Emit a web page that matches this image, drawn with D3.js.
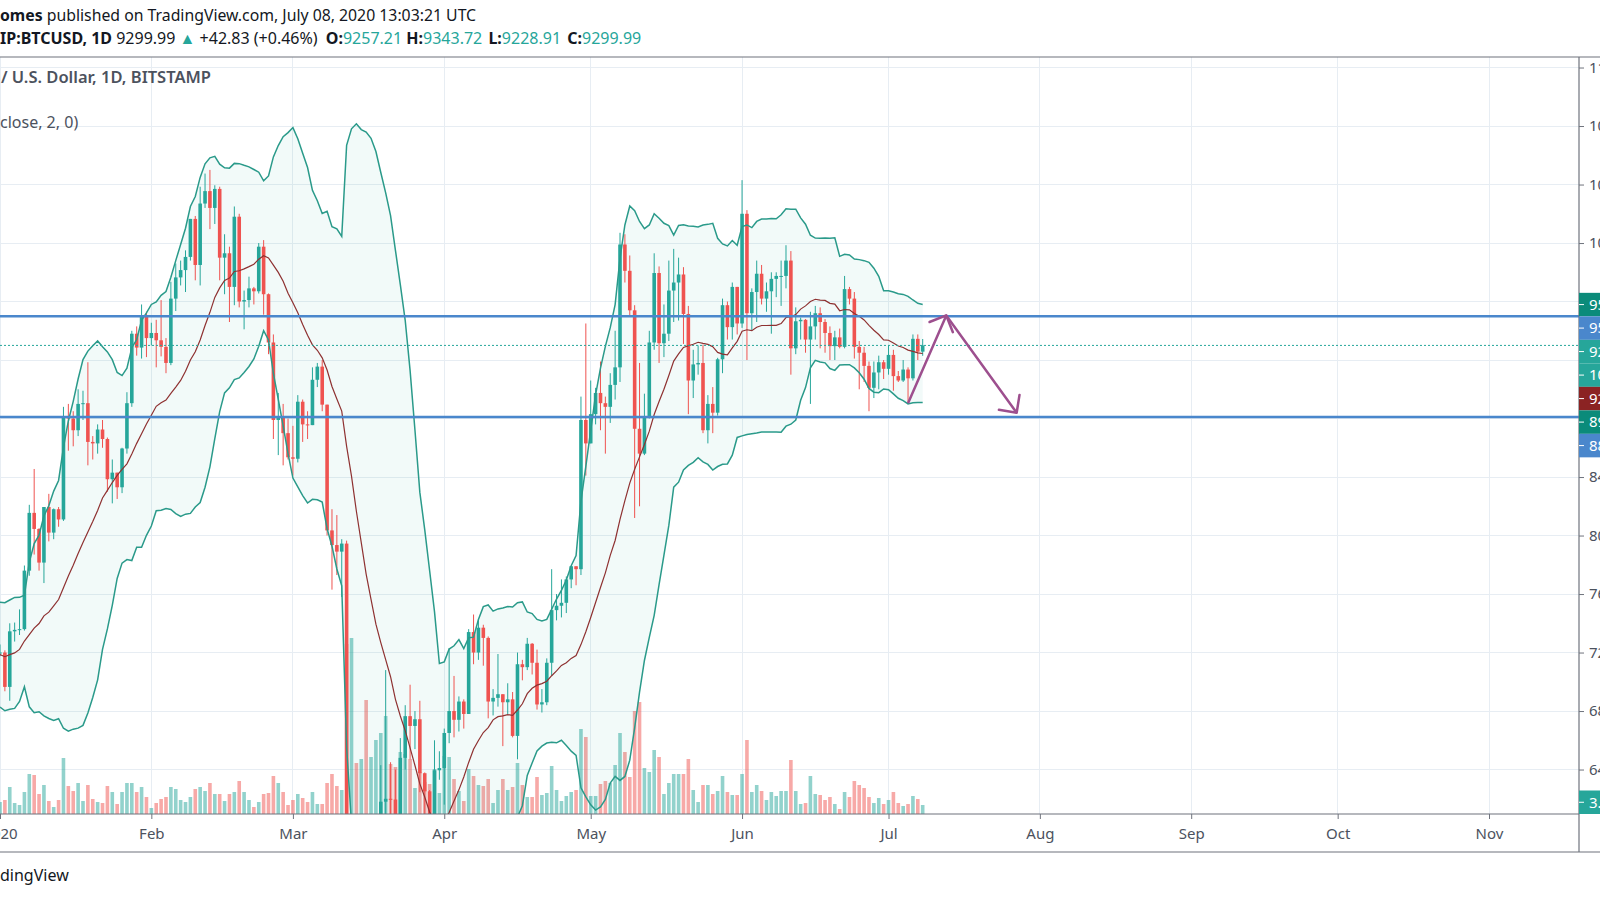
<!DOCTYPE html>
<meta charset="utf-8">
<style>
body { margin: 0; background: #fff; }
svg { display: block; font-family: "Noto Sans", sans-serif; }
</style>
<body>
<script src="https://d3js.org/d3.v7.min.js"></script>
<script>
// daily bars, BITSTAMP BTCUSD, first bar 2020-01-01
var firstDay = "2020-01-01";

var opens = [
  7195,7200,6965,7345,7355,7360,7760,8155,8045,7815,8195,8020,8180,8110,8810,8800,8720,8900,8905,8640,8630,8725,8660,8385,8430,8330,8595,8905,9380,9285,9505,
  9350,9385,9335,9290,9180,9620,9765,9815,9905,10165,9850,10270,10355,10240,10370,9900,9930,9700,10180,9600,9610,9690,9670,9975,9650,9320,8790,8810,8700,
  8535,8525,8915,8760,8755,9065,9155,8895,8035,7935,7890,7945,4860,5620,5165,5350,5020,5350,5400,6180,6200,6195,5826,6480,6765,6698,6744,6375,6251,5880,6395,
  6410,6650,6800,6740,6865,6780,7340,7200,7370,7300,6865,6890,6915,6860,6880,6630,7120,7100,7260,7130,6845,6860,7130,7490,7520,7540,7700,7790,7770,8790,
  8630,8830,8975,8905,8880,9030,9150,9990,9810,9540,8730,8560,8815,9320,9795,9315,9380,9675,9730,9785,9515,9060,9170,9180,8720,8900,8840,9205,9575,9425,9700,
  9450,10200,9520,9665,9790,9620,9670,9755,9775,9775,9880,9280,9465,9475,9340,9430,9520,9460,9385,9295,9355,9290,9685,9620,9290,9250,9160,9010,9115,9185,
  9140,9235,9090,9060,9135,9075,9345,9257.21
];
var highs = [
  7255,7215,7400,7405,7495,7795,8210,8455,8050,8195,8285,8185,8195,8880,8900,8850,9000,8990,9185,8680,8760,8790,8670,8520,8430,8600,8980,9400,9430,9580,9530,
  9455,9475,9610,9350,9735,9860,9880,9950,10165,10185,10385,10475,10500,10395,10385,10060,9975,10250,10200,9675,9770,9700,10000,10020,9655,9375,8975,8900,8800,
  8750,8960,8930,8850,9150,9180,9200,8895,8180,8140,7975,7965,5950,5650,5950,5360,5550,5400,6430,7080,6450,6400,6615,6840,6980,6800,6870,6380,6260,6600,6525,
  6680,7230,7040,6900,6880,7360,7460,7430,7390,7310,6950,7190,6915,6990,6930,7200,7150,7300,7265,7220,6950,7160,7770,7600,7700,7720,7790,7790,8950,9450,
  9060,9010,9190,8950,9110,9400,10070,10060,9915,9575,9180,8970,9400,9930,9840,9580,9880,9960,9900,9835,9570,9270,9300,9305,8960,9015,9215,9620,9600,9730,9700,
  10430,10225,9690,9880,9850,9730,9800,9800,9880,9985,9945,9560,9490,9480,9530,9570,9560,9480,9430,9400,9415,9775,9700,9665,9330,9290,9190,9190,9230,9200,
  9300,9270,9125,9200,9150,9375,9375,9343.72
];
var lows = [
  7175,6935,6870,7275,7320,7350,7725,7870,7760,7675,7960,7975,8060,8100,8580,8610,8680,8790,8480,8520,8560,8600,8300,8220,8250,8290,8560,8880,9230,9210,9220,
  9300,9150,9225,9110,9165,9535,9710,9665,9880,9745,9710,10240,10095,10130,9745,9650,9460,9575,9560,9410,9560,9580,9655,9510,9240,8660,8550,8480,8520,
  8410,8500,8640,8660,8755,9015,8850,8000,7630,7730,7580,4770,3850,5080,5100,4450,4960,5100,5250,5720,5860,5780,5696,6400,6470,6540,6245,6020,5865,5860,6330,
  6160,6580,6620,6660,6680,6780,7120,7150,7110,6750,6770,6830,6560,6780,6620,6470,7010,7080,7050,6810,6790,6840,7040,7420,7440,7470,7640,7660,7730,8410,
  8630,8760,8720,8560,8770,8930,9050,9730,9500,8120,8200,8550,8800,9270,9180,9220,9330,9460,9470,9310,8830,8940,9100,8700,8630,8700,8820,9110,9340,9340,9375,
  9420,9200,9400,9460,9580,9530,9380,9630,9570,9690,9100,9240,9340,9250,8900,9340,9280,9250,9200,9200,9280,9280,9580,9210,9000,9050,8850,8940,9000,9070,
  9100,8990,9050,9050,8900,9060,9200,9228.91
];
var closes = [
  7200,6965,7345,7355,7360,7760,8155,8045,7815,8195,8020,8180,8110,8810,8800,8720,8900,8905,8640,8630,8725,8660,8385,8430,8330,8595,8905,9380,9285,9505,9350,
  9385,9335,9290,9180,9620,9765,9815,9905,10165,9850,10270,10355,10240,10370,9900,9930,9700,10180,9600,9610,9690,9670,9975,9650,9320,8790,8810,8700,8535,
  8525,8915,8760,8755,9065,9155,8895,8035,7935,7890,7945,4860,5620,5165,5350,5020,5350,5400,6180,6200,6195,5826,6480,6765,6698,6744,6375,6251,5880,6395,6410,
  6650,6800,6740,6865,6780,7340,7200,7370,7300,6865,6890,6915,6860,6880,6630,7120,7100,7260,7130,6845,6860,7130,7490,7520,7540,7700,7790,7770,8790,8630,
  8830,8975,8905,8880,9030,9150,9990,9810,9540,8730,8560,8815,9320,9795,9315,9380,9675,9730,9785,9515,9060,9170,9180,8720,8900,8840,9205,9575,9425,9700,9450,
  10200,9520,9665,9790,9620,9670,9755,9775,9775,9880,9280,9465,9475,9340,9430,9520,9460,9385,9295,9355,9290,9685,9620,9290,9250,9160,9010,9115,9185,9140,
  9235,9090,9060,9135,9075,9345,9257.16,9299.99
];
// volume, thousands of BTC
var volumes = [
  4.8,5.6,10.8,4.4,3.6,8.8,16,15.6,8,11.6,5.2,2.8,5.6,22.4,11.2,9.2,12.4,5.2,11.6,6,4.8,4.4,11.2,8.8,4,8.8,12.4,12.4,8.8,10.8,6.8,
  2.4,4.4,6,6.8,10.8,10,5.6,4.8,6.8,10,10.8,9.2,12.4,8,8,5.2,8,8.8,13.2,8.8,5.6,2.8,4.8,8,8.4,15.2,12.4,8.8,3.6,
  5.6,8,6.4,4.8,8.8,4,4,12.4,16,11.2,9.6,68,70.4,20.4,22,45.6,22.8,29.6,32.4,39.2,20,18.8,24.8,24,22,10.4,16.8,12.8,12,18,8.4,
  23.2,22.8,14,9.2,5.2,18,15.2,11.6,11.2,14,4.4,9.6,14,9.6,10.8,20.4,11.6,6.8,6.8,14.8,7.6,8.4,19.2,9.6,5.2,7.2,8.8,9.6,34,30.8,
  7.2,7.2,12,13.2,12.4,19.6,32.4,24.8,14.8,41.2,44.8,18.4,16.8,25.6,22.8,8,12.4,16,16,16,22,9.6,4.8,11.6,11.6,8,9.2,15.2,8.8,7.6,7.6,
  16,29.6,8.8,11.6,9.2,5.6,8.8,7.2,9.2,9.2,21.6,9.2,4,4.4,15.2,8,7.6,5.6,6.8,4,2,8.8,6.8,13.2,11.6,10.4,6.8,4.4,6.4,4,
  5.6,8.8,4.4,3.2,4,7.2,6,3.6
];
// closes 2019-12-13 .. 2019-12-31, needed for the 20 day bands
var decCloses = [7250,7065,7115,6880,6615,7280,7150,7190,7145,7515,7315,7255,7200,7195,7245,7300,7385,7220,7195];

var priceTicks = [6400,6800,7200,7600,8000,8400,8800,9200,9600,10000,10400,10800,11200];
var monthDays = ["2020-01-01","2020-02-01","2020-03-01","2020-04-01","2020-05-01","2020-06-01","2020-07-01","2020-08-01","2020-09-01","2020-10-01","2020-11-01"];
var monthLabels = ["2020","Feb","Mar","Apr","May","Jun","Jul","Aug","Sep","Oct","Nov"];
var levels = [9500, 8810];   // horizontal lines
var arrowPts = [["2020-07-05T00:00", 8905], ["2020-07-12T20:00", 9505], ["2020-07-27T06:00", 8840]];
var countdown = "10:56:39";

var up = "#26a69a", down = "#ef5350", blue = "#4a87cc", bandCol = "#2a9a8a";
var plot = {left: 0, right: 1579, top: 57, bottom: 814};

var parseDay = d3.utcParse("%Y-%m-%d");
var parseTime = d3.utcParse("%Y-%m-%dT%H:%M");
var day0 = parseDay(firstDay);
var data = closes.map(function(c, i) {
  return {date: d3.utcDay.offset(day0, i), open: opens[i], high: highs[i], low: lows[i], close: c, volume: volumes[i]};
});

// bollinger (20, 2)
var allCloses = decCloses.concat(closes);
var bands = data.map(function(d, i) {
  var w = allCloses.slice(i, i + 20);
  var m = d3.mean(w);
  var sd = Math.sqrt(d3.mean(w, function(v) { return (v - m) * (v - m); }));
  return {date: d.date, basis: m, upper: m + 2 * sd, lower: m - 2 * sd};
});

var x = d3.scaleUtc().domain([parseDay("2020-01-01"), parseDay("2020-11-01")]).range([0, 1489]);
var y = d3.scaleLinear().domain([6096, 11272]).range([plot.bottom, plot.top]);
var yVol = d3.scaleLinear().domain([0, d3.max(volumes)]).range([plot.bottom, plot.bottom - 176]);

var svg = d3.select("body").append("svg").attr("width", 1600).attr("height", 900);
svg.append("rect").attr("width", 1600).attr("height", 900).attr("fill", "#fff");

svg.append("clipPath").attr("id", "clip").append("rect")
  .attr("x", plot.left).attr("y", plot.top)
  .attr("width", plot.right - plot.left).attr("height", plot.bottom - plot.top);

// grid
var grid = svg.append("g").attr("stroke", "#e7edf3").attr("shape-rendering", "crispEdges");
grid.selectAll(".h").data(priceTicks).join("line").attr("class", "h")
  .attr("x1", plot.left).attr("x2", plot.right)
  .attr("y1", function(d) { return y(d); }).attr("y2", function(d) { return y(d); });
grid.selectAll(".v").data(monthDays).join("line").attr("class", "v")
  .attr("x1", function(d) { return x(parseDay(d)); }).attr("x2", function(d) { return x(parseDay(d)); })
  .attr("y1", plot.top).attr("y2", plot.bottom);

var g = svg.append("g").attr("clip-path", "url(#clip)");
var bw = 3.6;

// volume
g.append("g").selectAll("rect").data(data).join("rect")
  .attr("x", function(d) { return x(d.date) - bw / 2; })
  .attr("width", bw)
  .attr("y", function(d) { return yVol(d.volume); })
  .attr("height", function(d) { return plot.bottom - yVol(d.volume); })
  .attr("fill", function(d) { return d.close >= d.open ? up : down; })
  .attr("fill-opacity", 0.5);

// band fill
g.append("path").datum(bands)
  .attr("fill", "#22ab94").attr("fill-opacity", 0.06)
  .attr("d", d3.area()
    .x(function(d) { return x(d.date); })
    .y0(function(d) { return y(d.lower); })
    .y1(function(d) { return y(d.upper); }));

// candles
var cg = g.append("g");
cg.selectAll("line").data(data).join("line")
  .attr("x1", function(d) { return x(d.date); }).attr("x2", function(d) { return x(d.date); })
  .attr("y1", function(d) { return y(d.high); }).attr("y2", function(d) { return y(d.low); })
  .attr("stroke", function(d) { return d.close >= d.open ? up : down; })
  .attr("stroke-width", 1);
cg.selectAll("rect").data(data).join("rect")
  .attr("x", function(d) { return x(d.date) - bw / 2; })
  .attr("width", bw)
  .attr("y", function(d) { return y(Math.max(d.open, d.close)); })
  .attr("height", function(d) { return Math.max(1, Math.abs(y(d.open) - y(d.close))); })
  .attr("fill", function(d) { return d.close >= d.open ? up : down; });

// band lines
["upper", "lower"].forEach(function(k) {
  g.append("path").datum(bands)
    .attr("fill", "none").attr("stroke", bandCol).attr("stroke-width", 1.5)
    .attr("d", d3.line().x(function(d) { return x(d.date); }).y(function(d) { return y(d[k]); }));
});
g.append("path").datum(bands)
  .attr("fill", "none").attr("stroke", "#8e3131").attr("stroke-width", 1.2)
  .attr("d", d3.line().x(function(d) { return x(d.date); }).y(function(d) { return y(d.basis); }));

// horizontal levels and last price line
g.selectAll(".lvl").data(levels).join("line").attr("class", "lvl")
  .attr("x1", plot.left).attr("x2", plot.right)
  .attr("y1", function(d) { return y(d); }).attr("y2", function(d) { return y(d); })
  .attr("stroke", blue).attr("stroke-width", 2.5);
var last = data[data.length - 1], prev = data[data.length - 2], lastBand = bands[bands.length - 1];
g.append("line")
  .attr("x1", plot.left).attr("x2", plot.right)
  .attr("y1", y(last.close)).attr("y2", y(last.close))
  .attr("stroke", up).attr("stroke-dasharray", "2,2");

// arrow drawing
var ap = arrowPts.map(function(p) { return [x(parseTime(p[0])), y(p[1])]; });
var arrowCol = "#9d4f8e";
g.append("path").attr("d", d3.line()(ap))
  .attr("fill", "none").attr("stroke", arrowCol).attr("stroke-width", 2.5).attr("stroke-linejoin", "round");
function head(from, tip) {
  var a = Math.atan2(from[1] - tip[1], from[0] - tip[0]), L = 18, t = Math.PI / 4;
  return [[tip[0] + L * Math.cos(a + t), tip[1] + L * Math.sin(a + t)], tip,
          [tip[0] + L * Math.cos(a - t), tip[1] + L * Math.sin(a - t)]];
}
[[ap[0], ap[1]], [ap[1], ap[2]]].forEach(function(s) {
  g.append("path").attr("d", d3.line()(head(s[0], s[1])))
    .attr("fill", "none").attr("stroke", arrowCol).attr("stroke-width", 2.5)
    .attr("stroke-linecap", "round").attr("stroke-linejoin", "round");
});

// frame
var frame = svg.append("g").attr("stroke", "#6f737d").attr("stroke-width", 1.2);
frame.append("line").attr("x1", 0).attr("x2", 1600).attr("y1", plot.top).attr("y2", plot.top);
frame.append("line").attr("x1", 0).attr("x2", plot.right).attr("y1", plot.bottom).attr("y2", plot.bottom);
frame.append("line").attr("x1", 0).attr("x2", 1600).attr("y1", 852).attr("y2", 852);
frame.append("line").attr("x1", plot.right).attr("x2", plot.right).attr("y1", plot.top).attr("y2", 852);

// price tags on the scale
var fmt = d3.format(".2f");
var tags = [
  {v: lastBand.upper, c: "#0b8b7a", t: fmt(lastBand.upper)},
  {v: levels[0], c: blue, t: fmt(levels[0])},
  {v: last.close, c: up, t: fmt(last.close)},
  {v: last.close, c: up, t: countdown},
  {v: lastBand.basis, c: "#8b2323", t: fmt(lastBand.basis)},
  {v: lastBand.lower, c: "#0b8b7a", t: fmt(lastBand.lower)},
  {v: levels[1], c: blue, t: fmt(levels[1])}
];
tags.forEach(function(d) { d.y = y(d.v); });
tags.sort(function(a, b) { return a.y - b.y; });
var th = 23.5, py = -1e9;
tags.forEach(function(d) { d.cy = Math.max(d.y, py + th); py = d.cy; });
tags.push({c: up, t: d3.format(".2f")(last.volume) + "K", cy: Math.min(yVol(last.volume), plot.bottom - th / 2)});

// axes
var xAxis = svg.append("g").attr("transform", "translate(0," + plot.bottom + ")")
  .call(d3.axisBottom(x).tickValues(monthDays.map(parseDay))
    .tickFormat(function(d, i) { return monthLabels[i]; }).tickSize(5).tickPadding(9));
// tick values hidden under a price tag are not drawn
var freeTicks = priceTicks.filter(function(v) {
  return !tags.some(function(t) { return Math.abs(y(v) - t.cy) < th / 2 + 6; });
});
var yAxis = svg.append("g").attr("transform", "translate(" + plot.right + ",0)")
  .call(d3.axisRight(y).tickValues(freeTicks).tickFormat(d3.format(".2f")).tickSize(5).tickPadding(5));
[xAxis, yAxis].forEach(function(a) {
  a.select(".domain").remove();
  a.selectAll("line").attr("stroke", "#6f737d");
  a.selectAll("text").attr("fill", "#4c525e").style("font-size", "15px").style("font-family", "Noto Sans, sans-serif");
});

var tg = svg.append("g").selectAll("g").data(tags).join("g")
  .attr("transform", function(d) { return "translate(" + plot.right + "," + d.cy + ")"; });
tg.append("rect").attr("x", 0).attr("y", -th / 2).attr("width", 40).attr("height", th).attr("fill", function(d) { return d.c; });
tg.append("line").attr("x1", 0).attr("x2", 5).attr("stroke", "#fff");
tg.append("text").attr("x", 10).attr("dy", "0.35em").attr("fill", "#fff")
  .style("font-size", "15px").text(function(d) { return d.t; });

// header texts
var dark = "#131722";
svg.append("text").attr("x", 0).attr("y", 21).attr("fill", dark).style("font-size", "15.8px")
  .call(function(t) {
    t.append("tspan").attr("font-weight", 700).text("omes");
    t.append("tspan").text(" published on TradingView.com, July 08, 2020 13:03:21 UTC");
  });
var chg = last.close - prev.close;
var parts = [
  ["IP:BTCUSD, 1D", dark, 700, 0], [" " + fmt(last.close) + " ", dark, 400, 0], ["\u25B2", up, 400, 0],
  [" +" + fmt(chg) + " (+" + fmt(chg / prev.close * 100) + "%) ", dark, 400, 0],
  ["O:", dark, 700, 4], [fmt(last.open), up, 400, 0], [" H:", dark, 700, 0], [fmt(last.high), up, 400, 0],
  [" L:", dark, 700, 2], [fmt(last.low), up, 400, 0], [" C:", dark, 700, 2], [fmt(last.close), up, 400, 0]
];
svg.append("text").attr("x", 0).attr("y", 44).style("font-size", "16px")
  .selectAll("tspan").data(parts).join("tspan")
  .attr("dx", function(d) { return d[3]; })
  .attr("fill", function(d) { return d[1]; }).attr("font-weight", function(d) { return d[2]; })
  .text(function(d) { return d[0]; });

svg.append("text").attr("x", 1).attr("y", 83).attr("fill", "#4c525e").attr("font-weight", 600)
  .style("font-size", "16.5px").text("/ U.S. Dollar, 1D, BITSTAMP");
svg.append("text").attr("x", 0).attr("y", 128).attr("fill", "#4c525e")
  .style("font-size", "16px").text("close, 2, 0)");
svg.append("text").attr("x", 0).attr("y", 881).attr("fill", dark)
  .style("font-size", "16px").text("dingView");
</script>
</body>
